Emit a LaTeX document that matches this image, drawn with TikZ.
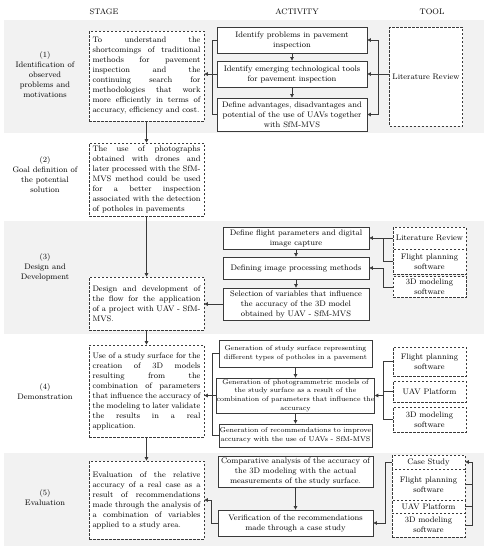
\documentclass[tikz,border=0pt]{standalone}
\usetikzlibrary{arrows.meta}
\definecolor{bandgray}{HTML}{F2F2F2}
\definecolor{linec}{HTML}{3A3A3A}
\tolerance=10000
\pretolerance=-1
\hbadness=10000
\tikzset{
  band/.style={fill=bandgray, draw=none},
  actbox/.style={draw=linec, fill=white, line width=0.8pt, align=center, inner sep=0pt, font=\fontsize{8}{10}\selectfont},
  actsmall/.style={actbox, font=\fontsize{7}{8.7}\selectfont},
  stagebox/.style={draw=linec, fill=white, line width=0.7pt, dash pattern=on 2.5pt off 1.5pt, text width=108pt, align=justify, inner xsep=3.5pt, inner ysep=0pt, minimum width=115pt, font=\fontsize{8}{10}\selectfont},
  toolbox/.style={draw=linec, fill=white, line width=0.7pt, dash pattern=on 2.5pt off 1.5pt, align=center, inner sep=0pt, minimum width=73pt, font=\fontsize{8}{10}\selectfont},
  lab/.style={align=center, font=\fontsize{8}{10}\selectfont},
  head/.style={font=\fontsize{8}{10}\selectfont},
  arr/.style={draw=linec, line width=0.7pt, -{Triangle[length=3.5pt,width=3.5pt]}},
  conn/.style={draw=linec, line width=0.7pt}
}
\begin{document}
\begin{tikzpicture}[x=1pt,y=-1pt]
\useasboundingbox (0,0) rectangle (488,550);
% bands
\fill[band] (4,20) rectangle (484,133);
\fill[band] (4,221) rectangle (484,334);
\fill[band] (4,453) rectangle (484,546);
% headers
\node[head] (hs) at (104,12) {STAGE};
\node[head] (ha) at (297,12) {ACTIVITY};
\node[head] (ht) at (432,12) {TOOL};
% labels
\node[lab] (l1) at (45,75) {(1)\\Identification of\\observed\\problems and\\motivations};
\node[lab] (l2) at (45,175) {(2)\\Goal definition of\\the potential\\solution};
\node[lab] (l3) at (45,267) {(3)\\Design and\\Development};
\node[lab] (l4) at (45,392) {(4)\\Demonstration};
\node[lab] (l5) at (45,498) {(5)\\Evaluation};
% stage boxes
\node[stagebox, minimum height=90pt] (s1) at (146.5,76) {To understand the\linebreak shortcomings of traditional\linebreak methods for pavement\linebreak inspection and the\linebreak continuing search for\linebreak methodologies that work\linebreak more efficiently in terms of\linebreak accuracy, efficiency and cost.};
\node[stagebox, minimum height=73pt] (s2) at (146.5,179.5) {The use of photographs\linebreak obtained with drones and\linebreak later processed with the SfM-\linebreak MVS method could be used\linebreak for a better inspection\linebreak associated with the detection\linebreak of potholes in pavements};
\node[stagebox, minimum height=53pt] (s3) at (146.5,303.5) {Design and development of\linebreak the flow for the application\linebreak of a project with UAV - SfM-\linebreak MVS.};
\node[stagebox, minimum height=92pt] (s4) at (146.5,391) {Use of a study surface for the\linebreak creation of 3D models\linebreak resulting from the\linebreak combination of parameters\linebreak that influence the accuracy of\linebreak the modeling to later validate\linebreak the results in a real\linebreak application.};
\node[stagebox, minimum height=78pt] (s5) at (146.5,500) {Evaluation of the relative\linebreak accuracy of a real case as a\linebreak result of recommendations\linebreak made through the analysis of\linebreak a combination of variables\linebreak applied to a study area.};
% band 1 activities
\node[actbox, minimum width=150pt, minimum height=26pt] (a11) at (292,40) {Identify problems in pavement\\inspection};
\node[actbox, minimum width=150pt, minimum height=26pt] (a12) at (292,74) {Identify emerging technological tools\\for pavement inspection};
\node[actbox, minimum width=150pt, minimum height=33pt] (a13) at (292,114.5) {Define advantages, disadvantages and\\potential of the use of UAVs together\\with SfM-MVS};
\node[toolbox, minimum height=99pt] (t1) at (426,76.5) {Literature Review};
% band 3 activities
\node[actbox, minimum width=146pt, minimum height=22pt] (a31) at (296,238) {Define flight parameters and digital\\image capture};
\node[actbox, minimum width=146pt, minimum height=22pt] (a32) at (296,268) {Defining image processing methods};
\node[actbox, minimum width=146pt, minimum height=32pt] (a33) at (296,304) {Selection of variables that influence\\the accuracy of the 3D model\\obtained by UAV - SfM-MVS};
\node[toolbox, minimum height=22pt] (t31) at (429.5,238) {Literature Review};
\node[toolbox, minimum height=25pt] (t32) at (429.5,261.5) {Flight planning\\software};
\node[toolbox, minimum height=21pt] (t33) at (429.5,287) {3D modeling\\software};
% band 4 activities
\node[actsmall, minimum width=153pt, minimum height=27pt] (a41) at (295.5,353.5) {Generation of study surface representing\\different types of potholes in a pavement};
\node[actsmall, minimum width=153pt, minimum height=35pt] (a42) at (295.5,395.5) {Generation of photogrammetric models of\\the study surface as a result of the\\combination of parameters that influence the\\accuracy};
\node[actsmall, minimum width=153pt, minimum height=23pt] (a43) at (295.5,435.5) {Generation of recommendations to improve\\accuracy with the use of UAVs - SfM-MVS};
\node[toolbox, minimum height=29pt] (t41) at (429.5,361.5) {Flight planning\\software};
\node[toolbox, minimum height=21pt] (t42) at (429.5,391.5) {UAV Platform};
\node[toolbox, minimum height=25pt] (t43) at (429.5,419.5) {3D modeling\\software};
% band 5 activities
\node[actbox, minimum width=155pt, minimum height=31pt] (a51) at (295.5,471.5) {Comparative analysis of the accuracy of\\the 3D modeling with the actual\\measurements of the study surface.};
\node[actbox, minimum width=155pt, minimum height=26pt] (a52) at (295.5,523) {Verification of the recommendations\\made through a case study};
\node[toolbox, minimum height=14pt] (t51) at (428.5,462) {Case Study};
\node[toolbox, minimum height=31pt] (t52) at (428.5,484.5) {Flight planning\\software};
\node[toolbox, minimum height=13pt] (t53) at (428.5,506.5) {UAV Platform};
\node[toolbox, minimum height=24pt] (t54) at (428.5,525) {3D modeling\\software};
% coordinates for brackets
\coordinate (rb1) at (378,0);
\coordinate (lb) at (212,0);
\coordinate (rb3) at (383,0);
% stage flow
\draw[arr] (s1) -- (s2);
\draw[arr] (s2) -- (s3);
\draw[arr] (s3) -- (s4);
\draw[arr] (s4) -- (s5);
% band 1 connectors
\draw[arr] (a11) -- (a12);
\draw[arr] (a12) -- (a13);
\draw[arr] (a12.east -| t1.west) -- (a12.east);
\draw[arr] (a12.east -| rb1) |- (a11.east);
\draw[arr] (a12.east -| rb1) |- (a13.east);
\draw[conn] (a11.west) -| (lb |- a13.west) -- (a13.west);
\draw[arr] (a12.west -| lb) -- (a12.west -| s1.east);
\draw[conn] (a12.west) -- (a12.west -| lb);
% band 3 connectors
\draw[arr] (a31) -- (a32);
\draw[arr] (a32) -- (a33);
\draw[arr] (t31.west) -- (a31.east);
\draw[conn] (t32.west) -| (a31.east -| rb3);
\draw[arr] (t33.west) -| (a32.east -| rb3) -- (a32.east);
\draw[arr] (a33.west) -- (a33.west -| s3.east);
% band 4 connectors
\draw[arr] (a41) -- (a42);
\draw[arr] (a42) -- (a43);
\draw[conn] (t41.west) -| (rb3 |- t43.west) -- (t43.west);
\draw[conn] (t42.west) -- (t42.west -| rb3);
\draw[arr] (a42.east -| rb3) -- (a42.east);
\draw[conn] (a41.west) -| (lb |- a43.west) -- (a43.west);
\draw[conn] (a42.west) -- (a42.west -| lb);
\draw[arr] (a42.west -| lb) -- (a42.west -| s4.east);
% band 5 connectors
\draw[arr] (a51) -- (a52);
\draw[arr] (a52.west) -- ++(-6,0) |- (s5.east);
\draw[arr] (t51.west) -- ++(-6,0) |- (a52.east);
\draw[arr] (t54.east) -- ++(7,0) |- (t51.east);
\draw[conn] (t52.east) -- ++(7,0);
\draw[conn] (t53.east) -- ++(7,0);
\end{tikzpicture}
\end{document}
